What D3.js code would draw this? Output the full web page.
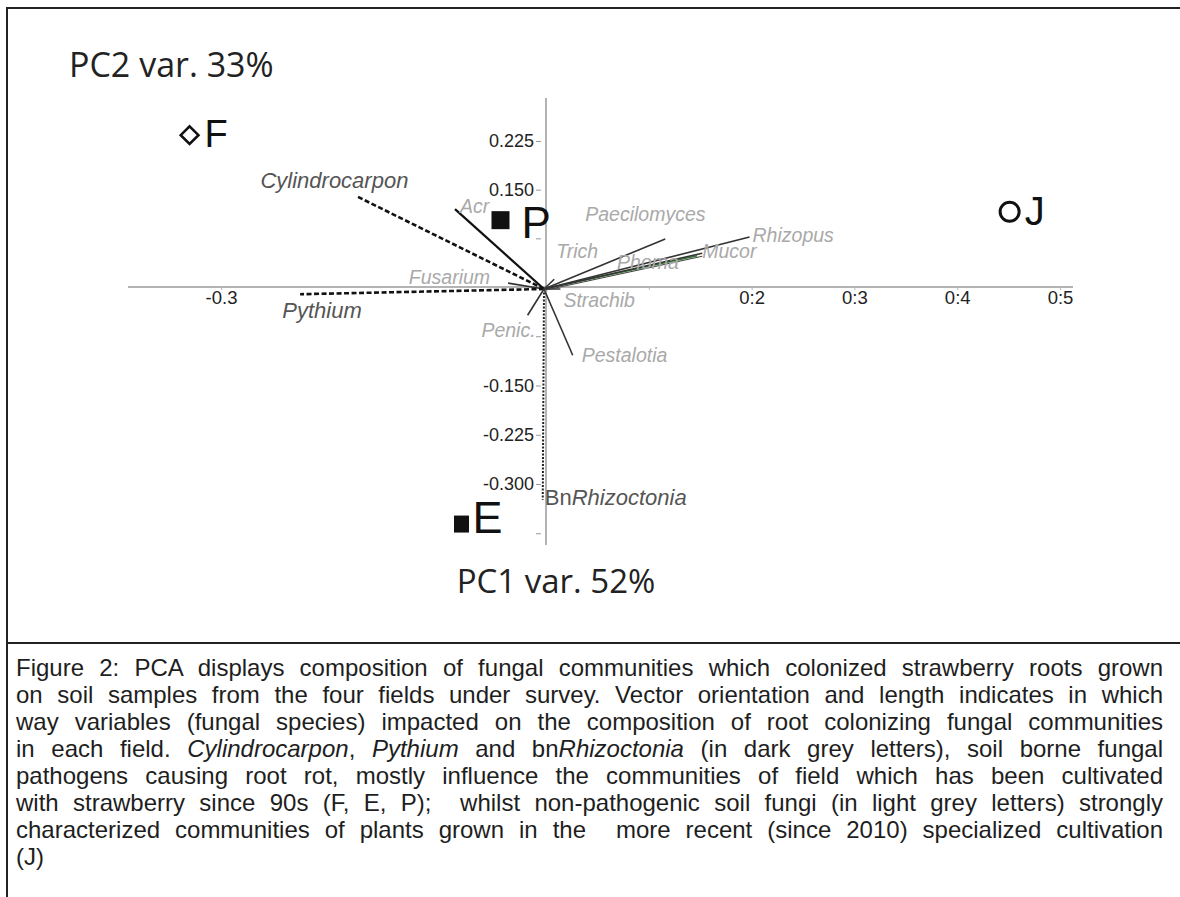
<!DOCTYPE html>
<html>
<head>
<meta charset="utf-8">
<script src="https://cdn.jsdelivr.net/npm/d3@7"></script>
<style>
  html, body { margin: 0; padding: 0; background: #fff; }
  #wrap { position: relative; width: 1180px; height: 897px; overflow: hidden; }
  svg { position: absolute; left: 0; top: 0; }
  #caption { position: absolute; left: 16px; top: 654px; width: 1147px;
    font-family: "Liberation Sans", Arial, sans-serif; font-size: 24px; color: #1e1e1e; line-height: 27px; }
  #caption div { text-align: justify; text-align-last: justify; white-space: nowrap; }
  #caption div.last { text-align-last: left; }
</style>
</head>
<body>
<div id="wrap">
<svg id="chart" width="1180" height="897"></svg>
<div id="caption"></div>
</div>
<script>
// ---- data ----
const xTickValues = [-0.3, 0.1, 0.2, 0.3, 0.4, 0.5];
const xTickLabels = ["-0.3", "", "0:2", "0:3", "0:4", "0:5"];
const yTickValues = [0.225, 0.15, 0.075, -0.075, -0.15, -0.225, -0.3, -0.375];
const yTickLabels = ["0.225", "0.150", "", "", "-0.150", "-0.225", "-0.300", ""];

const siteNames = ["F", "P", "E", "J"];
const siteShapes = ["diamond", "square", "square", "circle"];
const sitePC1 = [-0.329, -0.042, -0.078, 0.451];
const sitePC2 = [0.234, 0.103, -0.361, 0.116];

const fungi = ["Cylindrocarpon", "Acr", "Fusarium", "Pythium", "Rhizoctonia", "Penic.", "Pestalotia",
               "Strachib", "Trich", "Paecilomyces", "Phoma", "Mucor", "Rhizopus"];
const fungiPC1 = [-0.175, -0.084, -0.035, -0.227, -0.003, -0.017, 0.026, 0.014, 0.008, 0.116, 0.147, 0.152, 0.198];
const fungiPC2 = [0.140, 0.120, 0.006, -0.011, -0.324, -0.043, -0.104, -0.003, 0.012, 0.074, 0.048, 0.052, 0.077];
const fungiPathogen = [true, false, false, true, true, false, false, false, false, false, false, false, false];

const xTitle = "PC1 var. 52%";
const yTitle = "PC2 var. 33%";

const captionLines = [
  "Figure 2: PCA displays composition of fungal communities which colonized strawberry roots grown",
  "on soil samples from the four fields under survey. Vector orientation and length indicates in which",
  "way variables (fungal species) impacted on the composition of root colonizing fungal communities",
  "in each field. <i>Cylindrocarpon</i>, <i>Pythium</i> and bn<i>Rhizoctonia</i> (in dark grey letters), soil borne fungal",
  "pathogens causing root rot, mostly influence the communities of field which has been cultivated",
  "with strawberry since 90s (F, E, P);&nbsp; whilst non-pathogenic soil fungi (in light grey letters) strongly",
  "characterized communities of plants grown in the&nbsp; more recent (since 2010) specialized cultivation",
  "(J)"
];

// ---- layout / style ----
const svg = d3.select("#chart");
const x = d3.scaleLinear().domain([-0.3, 0, 0.5]).range([221, 546, 1060]);
const y = d3.scaleLinear().domain([-0.3, 0, 0.225]).range([484, 287, 141]);
const sans = "'Liberation Sans', Arial, sans-serif";
const titleFont = "'Open Sans', 'Noto Sans', sans-serif";

// frame
svg.append("rect").attr("x", 7).attr("y", 8).attr("width", 1185).attr("height", 900)
  .attr("fill", "none").attr("stroke", "#222").attr("stroke-width", 2);
svg.append("line").attr("x1", 7).attr("x2", 1180).attr("y1", 643).attr("y2", 643)
  .attr("stroke", "#222").attr("stroke-width", 2);

// axis lines
svg.append("line").attr("x1", 128).attr("x2", 1073).attr("y1", y(0)).attr("y2", y(0))
  .attr("stroke", "#9a9a9a").attr("stroke-width", 1.5);
svg.append("line").attr("x1", x(0)).attr("x2", x(0)).attr("y1", 98).attr("y2", 545)
  .attr("stroke", "#9a9a9a").attr("stroke-width", 1.5);

// x axis ticks
const xAxis = d3.axisBottom(x).tickValues(xTickValues)
  .tickFormat((d, i) => xTickLabels[i]).tickSize(3).tickPadding(1);
const gx = svg.append("g").attr("transform", `translate(0,${y(0)})`).call(xAxis);
gx.select(".domain").remove();
gx.selectAll(".tick line").attr("stroke", "#bbb");
gx.selectAll(".tick text").attr("font-family", sans).attr("font-size", 18.5).attr("fill", "#222");

// y axis ticks
const yAxis = d3.axisLeft(y).tickValues(yTickValues)
  .tickFormat((d, i) => yTickLabels[i]).tickSize(5).tickPadding(2);
const gy = svg.append("g").attr("transform", `translate(${x(0) - 5},0)`).call(yAxis);
gy.select(".domain").remove();
gy.selectAll(".tick line").attr("stroke", "#999");
gy.selectAll(".tick text").attr("font-family", sans).attr("font-size", 18).attr("fill", "#222");

// axis titles
svg.append("text").attr("x", 69).attr("y", 77).text(yTitle)
  .attr("font-family", titleFont).attr("font-size", 34).attr("fill", "#222");
svg.append("text").attr("x", 556).attr("y", 593).attr("text-anchor", "middle").text(xTitle)
  .attr("font-family", titleFont).attr("font-size", 33).attr("fill", "#222");

// vectors
const vecStyle = {
  "Cylindrocarpon": { stroke: "#111", w: 2.6, dash: "5,2.5" },
  "Pythium": { stroke: "#111", w: 2.6, dash: "5,2.5" },
  "Rhizoctonia": { stroke: "#222", w: 2, dash: "2,1.5" },
  "Acr": { stroke: "#111", w: 2.2, dash: null },
  "Phoma": { stroke: "#2f7a2f", w: 1.5, dash: null }
};
const labelPos = {
  "Cylindrocarpon": { dx: -22, dy: -8, anchor: "middle" },
  "Acr": { dx: 5, dy: 4, anchor: "start" },
  "Fusarium": { dx: -18, dy: 1, anchor: "end" },
  "Pythium": { dx: 22, dy: 24, anchor: "middle" },
  "Rhizoctonia": { dx: 2, dy: 5, anchor: "start" },
  "Penic.": { dx: 8, dy: 22, anchor: "end" },
  "Pestalotia": { dx: 9, dy: 7, anchor: "start" },
  "Strachib": { dx: 3, dy: 18, anchor: "start" },
  "Trich": { dx: 2, dy: -21, anchor: "start" },
  "Paecilomyces": { dx: -80, dy: -18, anchor: "start" },
  "Phoma": { dx: -80, dy: 13, anchor: "start" },
  "Mucor": { dx: 0, dy: 5, anchor: "start" },
  "Rhizopus": { dx: 3, dy: 5, anchor: "start" }
};

const vg = svg.append("g");
fungi.forEach((name, i) => {
  const s = vecStyle[name] || { stroke: "#333", w: 1.6, dash: null };
  const l = vg.append("line")
    .attr("x1", x(0) - 2).attr("y1", y(0) + 2)
    .attr("x2", x(fungiPC1[i])).attr("y2", y(fungiPC2[i]))
    .attr("stroke", s.stroke).attr("stroke-width", s.w);
  if (s.dash) l.attr("stroke-dasharray", s.dash);
});
// Mucor double stroke
const mi = fungi.indexOf("Mucor");
vg.append("line").attr("x1", x(0)).attr("y1", y(0) + 3)
  .attr("x2", x(fungiPC1[mi])).attr("y2", y(fungiPC2[mi]) + 3)
  .attr("stroke", "#444").attr("stroke-width", 1.2);

fungi.forEach((name, i) => {
  const p = labelPos[name];
  const t = svg.append("text")
    .attr("x", x(fungiPC1[i]) + p.dx).attr("y", y(fungiPC2[i]) + p.dy)
    .attr("text-anchor", p.anchor)
    .attr("font-family", sans)
    .attr("font-size", fungiPathogen[i] ? 22 : 19.5)
    .attr("fill", fungiPathogen[i] ? "#555" : "#a9a9a9");
  if (name === "Rhizoctonia") {
    t.append("tspan").text("Bn");
    t.append("tspan").attr("font-style", "italic").text("Rhizoctonia");
  } else {
    t.attr("font-style", "italic").text(name);
  }
});

// sites
const siteLabel = {
  "F": { dx: 15, dy: 12, size: 38 },
  "P": { dx: 21, dy: 18, size: 44 },
  "E": { dx: 11, dy: 9, size: 45 },
  "J": { dx: 15, dy: 13, size: 40 }
};
siteNames.forEach((n, i) => {
  const cx = x(sitePC1[i]), cy = y(sitePC2[i]);
  const shape = siteShapes[i];
  if (shape === "diamond") {
    svg.append("path").attr("d", d3.symbol(d3.symbolDiamond2, 200)())
      .attr("transform", `translate(${cx},${cy})`)
      .attr("fill", "none").attr("stroke", "#111").attr("stroke-width", 2.6);
  } else if (shape === "square") {
    const sz = n === "P" ? 18 : 15;
    svg.append("rect").attr("x", cx - sz / 2).attr("y", cy - sz / 2 - (n === "E" ? 1 : 0))
      .attr("width", sz).attr("height", n === "E" ? sz + 2 : sz).attr("fill", "#111");
  } else {
    svg.append("circle").attr("cx", cx).attr("cy", cy).attr("r", 9.5)
      .attr("fill", "none").attr("stroke", "#111").attr("stroke-width", 3);
  }
  const sl = siteLabel[n];
  svg.append("text").attr("x", cx + sl.dx).attr("y", cy + sl.dy).text(n)
    .attr("font-family", sans).attr("font-size", sl.size).attr("fill", "#111");
});

// caption
const cap = d3.select("#caption");
captionLines.forEach((line, i) => {
  cap.append("div").attr("class", i === captionLines.length - 1 ? "last" : null).html(line);
});
</script>
</body>
</html>
